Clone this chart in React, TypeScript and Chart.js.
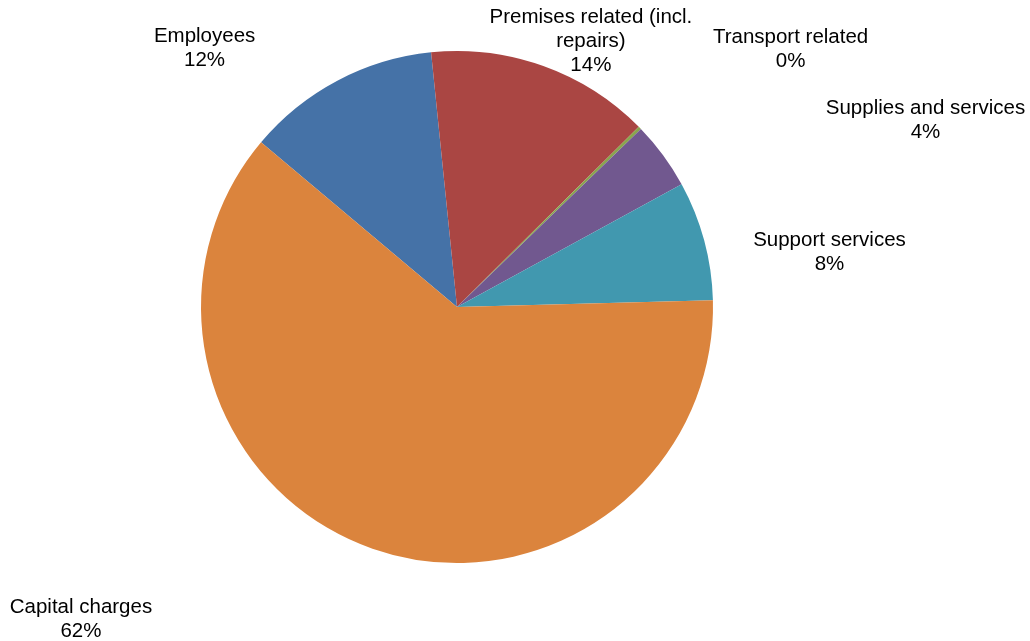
import React, { useEffect, useRef } from "react";
import { Chart, registerables } from "chart.js";

Chart.register(...registerables);

const categories = [
  "Employees",
  "Premises related (incl. repairs)",
  "Transport related",
  "Supplies and services",
  "Support services",
  "Capital charges",
];
const labelLines = [
  ["Employees"],
  ["Premises related (incl.", "repairs)"],
  ["Transport related"],
  ["Supplies and services"],
  ["Support services"],
  ["Capital charges"],
];
const values = [12.26, 14.18, 0.19, 4.28, 7.55, 61.55];
const colors = ["#4572A7", "#AA4643", "#89A54E", "#71588F", "#4198AF", "#DB843D"];
// label block centre offsets, in units of the pie radius, from the pie centre
const labelOffsets = [
  [-0.986, -1.01],
  [0.523, -1.039],
  [1.303, -1.006],
  [1.83, -0.729],
  [1.455, -0.213],
  [-1.469, 1.219],
];

const FONT = "20.5px 'Liberation Sans', Arial, sans-serif";
const LINE_H = 24;

const labelPlugin = {
  id: "outsideLabels",
  afterDraw(chart: any) {
    const ctx = chart.ctx;
    const meta = chart.getDatasetMeta(0);
    const total = values.reduce((a, b) => a + b, 0);
    ctx.save();
    ctx.font = FONT;
    ctx.fillStyle = "#000000";
    ctx.textAlign = "center";
    ctx.textBaseline = "middle";
    meta.data.forEach((arc: any, i: number) => {
      const r = arc.outerRadius;
      const cx = arc.x + labelOffsets[i][0] * r;
      const cy = arc.y + labelOffsets[i][1] * r;
      const lines = [...labelLines[i], Math.round((values[i] / total) * 100) + "%"];
      const startY = cy - ((lines.length - 1) * LINE_H) / 2;
      lines.forEach((t, k) => ctx.fillText(t, cx, startY + k * LINE_H));
    });
    ctx.restore();
  },
};

export default function App() {
  const ref = useRef<HTMLCanvasElement>(null);
  useEffect(() => {
    const chart = new Chart(ref.current!, {
      type: "pie",
      data: {
        labels: categories,
        datasets: [
          {
            data: values,
            backgroundColor: colors,
            borderWidth: 0,
          },
        ],
      },
      options: {
        animation: false,
        responsive: false,
        rotation: 310.06,
        layout: { padding: { left: 201, right: 317, top: 51, bottom: 78 } },
        plugins: {
          legend: { display: false },
          tooltip: { enabled: false },
        },
      },
      plugins: [labelPlugin],
    });
    return () => chart.destroy();
  }, []);
  return (
    <div style={{ position: "fixed", left: 0, top: 0, width: 1030, height: 641, background: "#fff" }}>
      <canvas ref={ref} width={1030} height={641} />
    </div>
  );
}
